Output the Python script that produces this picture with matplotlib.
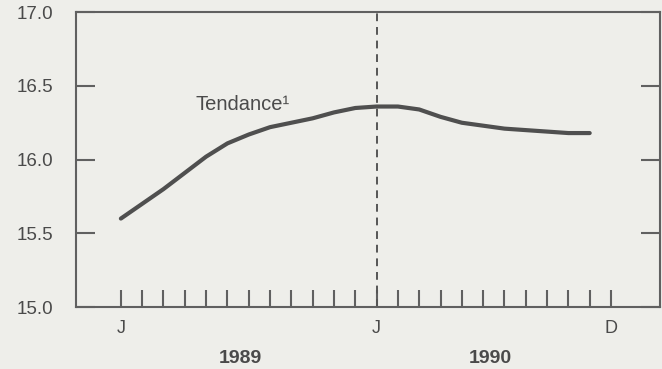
import numpy as np
import matplotlib.pyplot as plt

plt.rcParams['font.family'] = ['Liberation Sans', 'DejaVu Sans']

# monthly trend, Jan 1989 .. Nov 1990 (month index 0 = Jan 1989)
months = list(range(23))
trend = [15.60, 15.70, 15.80, 15.91, 16.02, 16.11, 16.17, 16.22, 16.25, 16.28,
         16.32, 16.35, 16.36, 16.36, 16.34, 16.29, 16.25, 16.23, 16.21, 16.20,
         16.19, 16.18, 16.18]

month_labels = {0: 'J', 12: 'J', 23: 'D'}
years = ['1989', '1990']
year_centers = [5.6, 17.35]
y_ticks = [15.0, 15.5, 16.0, 16.5, 17.0]

bg = '#eeeeea'
ink = '#4a4a4a'

fig = plt.figure(figsize=(6.62, 3.69), dpi=100, facecolor=bg)
ax = fig.add_axes([0.115, 0.168, 0.882, 0.799], facecolor=bg)

ax.plot(months, trend, color='#4f4f4f', lw=3, solid_capstyle='round',
        solid_joinstyle='round')
ax.axvline(12, color='#555555', lw=1.4, ls=(0, (4, 3)))

ax.set_xlim(-2.1, 25.3)
ax.set_ylim(15.0, 17.0)

for s in ax.spines.values():
    s.set_color('#606060')
    s.set_linewidth(1.5)

ax.set_yticks(y_ticks)
ax.set_yticklabels([f'{v:.1f}' for v in y_ticks], fontsize=13.5, color=ink)
ax.tick_params(axis='y', direction='in', length=14, width=1.5, color='#606060',
               pad=16.5, right=True)

ax.set_xticks(range(24))
ax.set_xticklabels([month_labels.get(m, '') for m in range(24)], fontsize=13, color=ink)
ax.tick_params(axis='x', direction='in', length=12.5, width=1.5, color='#606060', pad=9)

for yr, xc in zip(years, year_centers):
    ax.text(xc, -0.173, yr, transform=ax.get_xaxis_transform(), ha='center', va='center',
            fontsize=14, fontweight='bold', color=ink)

ax.text(3.5, 16.375, 'Tendance\u00b9', fontsize=14.5, color=ink, ha='left', va='center')

fig.savefig('out.png', dpi=100, facecolor=bg)
